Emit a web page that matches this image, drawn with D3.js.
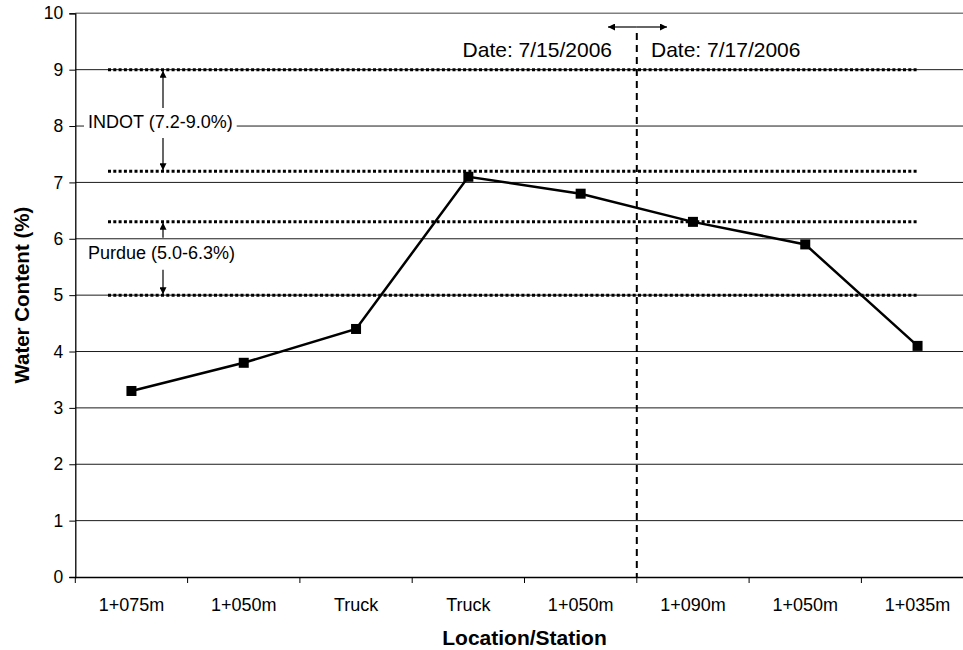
<!DOCTYPE html>
<html><head><meta charset="utf-8">
<script src="https://cdn.jsdelivr.net/npm/d3@7"></script>
<style>body{margin:0;background:#fff}svg{display:block;font-family:"Liberation Sans",Arial,sans-serif}</style>
</head><body><svg id="c" width="963" height="650"></svg>
<script>
const categories = ["1+075m","1+050m","Truck","Truck","1+050m","1+090m","1+050m","1+035m"];
const waterContent = [3.3,3.8,4.4,7.1,6.8,6.3,5.9,4.1];
const yTicks = [0,1,2,3,4,5,6,7,8,9,10];
const limits = [9.0,7.2,6.3,5.0];
const ranges = [{label:"INDOT (7.2-9.0%)",lo:7.2,hi:9.0,mid:8.07,gapT:14,gapB:16},{label:"Purdue (5.0-6.3%)",lo:5.0,hi:6.3,mid:5.75,gapT:15,gapB:17}];
const dates = ["Date: 7/15/2006","Date: 7/17/2006"];

const FF = "Liberation Sans, Arial, sans-serif";
const svg = d3.select("#c");
const L=75.3, R=973.7, T=13.3, B=577;
const x = d3.scaleBand().domain(d3.range(categories.length)).range([L,R]);
const y = d3.scaleLinear().domain([0,10]).range([B,T]);

// gridlines
svg.append("g").selectAll("line").data(yTicks.filter(d=>d>0)).join("line")
  .attr("x1",L).attr("x2",R).attr("y1",d=>y(d)).attr("y2",d=>y(d))
  .attr("stroke",d=>d===10?"#808080":"#000").attr("stroke-width",d=>d===10?1.5:0.9);

// y axis
const ya = svg.append("g").attr("transform",`translate(${L},0)`)
  .call(d3.axisLeft(y).tickValues(yTicks).tickSize(6).tickPadding(6));
ya.select(".domain").attr("stroke","#000").attr("stroke-width",1.3);
ya.selectAll("line").attr("stroke","#000");
ya.selectAll("text").attr("font-size",17.5).attr("fill","#000").attr("font-family",FF);

// x axis
const xa = svg.append("g").attr("transform",`translate(0,${B})`)
  .call(d3.axisBottom(x).tickFormat(i=>categories[i]).tickSize(0).tickPadding(21));
xa.select(".domain").attr("stroke","#000").attr("stroke-width",1.3);
xa.selectAll("text").attr("font-size",18).attr("fill","#000").attr("font-family",FF);
svg.append("g").selectAll("line").data(d3.range(categories.length+1)).join("line")
  .attr("x1",i=>L+i*x.step()).attr("x2",i=>L+i*x.step()).attr("y1",B).attr("y2",B+6)
  .attr("stroke","#000").attr("stroke-width",1);

// dotted limit lines
svg.append("g").selectAll("line").data(limits).join("line")
  .attr("x1",108).attr("x2",917).attr("y1",d=>y(d)).attr("y2",d=>y(d))
  .attr("stroke","#000").attr("stroke-width",3).attr("stroke-dasharray","3,2.3");

// arrow markers
const defs = svg.append("defs");
defs.append("marker").attr("id","ah").attr("viewBox","0 0 10 10").attr("refX",10).attr("refY",5)
  .attr("markerWidth",9).attr("markerHeight",7).attr("markerUnits","userSpaceOnUse").attr("orient","auto-start-reverse")
  .append("path").attr("d","M0,0L10,5L0,10Z").attr("fill","#000");

// range annotations
const ax = 163;
const annG = svg.append("g");
ranges.forEach(r=>{
  const ty = y(r.mid);
  annG.append("line").attr("x1",ax).attr("x2",ax).attr("y1",ty-r.gapT).attr("y2",y(r.hi)+1)
    .attr("stroke","#000").attr("stroke-width",1.2).attr("marker-end","url(#ah)");
  annG.append("line").attr("x1",ax).attr("x2",ax).attr("y1",ty+r.gapB).attr("y2",y(r.lo)-1)
    .attr("stroke","#000").attr("stroke-width",1.2).attr("marker-end","url(#ah)");
  const bgr = annG.append("rect").attr("fill","#fff");
  const t = annG.append("text").attr("x",88).attr("y",ty).attr("dy","0.35em")
    .attr("font-size",18).attr("fill","#000").attr("font-family",FF).text(r.label);
  const bb = t.node().getBBox();
  bgr.attr("x",bb.x-4).attr("y",bb.y).attr("width",bb.width+8).attr("height",bb.height);
});

// dashed date divider
const dx = L+5*x.step();
svg.append("line").attr("x1",dx).attr("x2",dx).attr("y1",33).attr("y2",B)
  .attr("stroke","#000").attr("stroke-width",2).attr("stroke-dasharray","7,5");
svg.append("line").attr("x1",dx).attr("x2",608).attr("y1",27).attr("y2",27)
  .attr("stroke","#000").attr("stroke-width",1.2).attr("marker-end","url(#ah)");
svg.append("line").attr("x1",dx).attr("x2",667).attr("y1",27).attr("y2",27)
  .attr("stroke","#000").attr("stroke-width",1.2).attr("marker-end","url(#ah)");
svg.append("text").attr("x",612).attr("y",50).attr("dy","0.35em").attr("text-anchor","end")
  .attr("font-size",21).attr("fill","#000").attr("font-family",FF).text(dates[0]);
svg.append("text").attr("x",651).attr("y",50).attr("dy","0.35em").attr("text-anchor","start")
  .attr("font-size",21).attr("fill","#000").attr("font-family",FF).text(dates[1]);

// data line
const line = d3.line().x((d,i)=>x(i)+x.bandwidth()/2).y(d=>y(d));
svg.append("path").datum(waterContent).attr("d",line).attr("fill","none").attr("stroke","#000").attr("stroke-width",2.5);
svg.append("g").selectAll("rect").data(waterContent).join("rect")
  .attr("x",(d,i)=>x(i)+x.bandwidth()/2-5).attr("y",d=>y(d)-5).attr("width",10).attr("height",10).attr("fill","#000");

// axis titles
svg.append("text").attr("x",(L+R)/2).attr("y",638).attr("dy","0.35em").attr("text-anchor","middle")
  .attr("font-size",21).attr("font-weight","bold").attr("fill","#000").attr("font-family",FF).text("Location/Station");
svg.append("text").attr("transform",`translate(22,${(T+B)/2}) rotate(-90)`).attr("dy","0.35em").attr("text-anchor","middle")
  .attr("font-size",20.5).attr("font-weight","bold").attr("fill","#000").attr("font-family",FF).text("Water Content (%)");
</script></body></html>
